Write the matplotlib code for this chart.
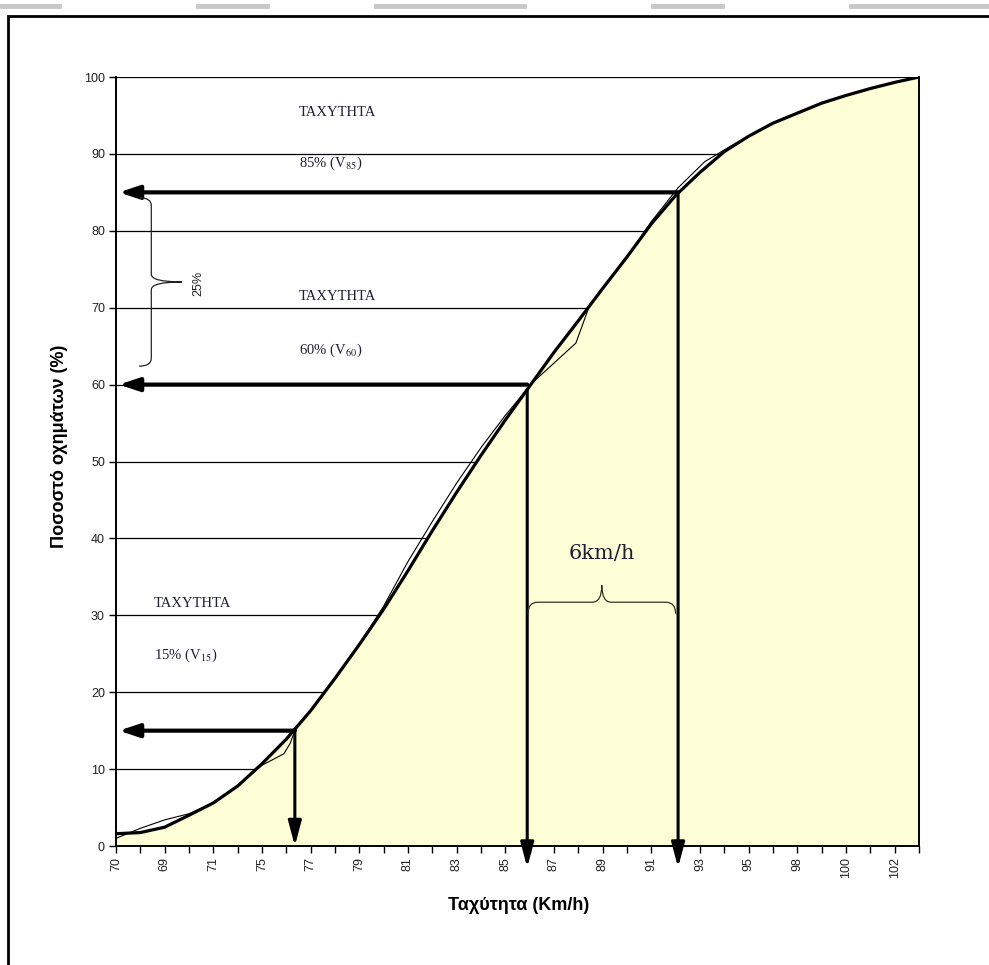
import numpy as np
import matplotlib
matplotlib.use('Agg')
import matplotlib.pyplot as plt
from matplotlib.path import Path
from matplotlib.patches import PathPatch, Rectangle
from matplotlib.lines import Line2D

plt.rcParams['font.family'] = ['Liberation Sans', 'DejaVu Sans']
plt.rcParams['mathtext.fontset'] = 'stix'

### Data ###

# speed categories on the x axis (only every other one carries a label)
speed_labels = ['70', '69', '71', '75', '77', '79', '81', '83', '85', '87',
                '89', '91', '93', '95', '98', '100', '102']
n_cat = 34

# smoothed cumulative curve (%), one value per category
smooth_pct = [1.6, 1.75, 2.45, 4.0, 5.6, 7.8, 10.7, 13.9, 17.6, 21.8,
              26.2, 30.8, 35.8, 41.0, 46.0, 50.8, 55.4, 59.8, 64.2, 68.3,
              72.5, 76.6, 80.9, 84.6, 87.6, 90.3, 92.3, 94.0, 95.3, 96.6,
              97.6, 98.5, 99.3, 100.0]

# measured cumulative distribution (thin line)
meas_x = [0, 1, 2, 3, 4, 5, 6, 6.9, 7.15, 7.4, 8, 9, 10, 11, 12, 13, 14,
          15, 16, 17.1, 18.9, 19.44, 20, 21, 22, 23.1, 24.2, 25.2, 26, 27,
          28, 29, 30, 31, 32, 33]
meas_pct = [1.0, 2.3, 3.4, 4.2, 5.6, 7.8, 10.5, 12.0, 13.3, 15.4, 17.6,
            21.8, 26.2, 31.2, 37.0, 42.2, 47.2, 51.8, 56.0, 60.2, 65.4,
            70.1, 72.5, 76.6, 81.2, 85.6, 89.0, 90.9, 92.3, 94.0, 95.3,
            96.6, 97.6, 98.5, 99.3, 100.0]

# percentile speeds: level (%) and position on the category axis
pct_levels = [15, 60, 85]
pct_pos = [7.35, 16.9, 23.1]
pct_names = ['15', '60', '85']


def brace(ax, a0, a1, b_end, b_spine, b_tip, r, vertical=True, **kw):
    '''Curly brace spanning a0..a1 along one axis; ends at b_end,
    spine at b_spine, tip at b_tip on the other axis.'''
    m = (a0 + a1) / 2.0
    pts = [(b_end, a1), (b_spine, a1), (b_spine, a1 - r),
           (b_spine, m + r), (b_spine, m), (b_tip, m),
           (b_spine, m), (b_spine, m - r),
           (b_spine, a0 + r), (b_spine, a0), (b_end, a0)]
    if not vertical:
        pts = [(p[1], p[0]) for p in pts]
    codes = [Path.MOVETO, Path.CURVE3, Path.CURVE3, Path.LINETO,
             Path.CURVE3, Path.CURVE3, Path.CURVE3, Path.CURVE3,
             Path.LINETO, Path.CURVE3, Path.CURVE3]
    ax.add_patch(PathPatch(Path(pts, codes), fill=False, **kw))


fig = plt.figure(figsize=(9.89, 9.65), dpi=100)
ax = fig.add_axes([0.1173, 0.1233, 0.8119, 0.7969])

x = np.arange(n_cat)

# grid lines sit behind the yellow area
for g in range(10, 101, 10):
    ax.axhline(g, color='black', lw=0.9, zorder=0.5)

ax.fill_between(x, 0, smooth_pct, color='#fdfdd6', lw=0, zorder=1)
ax.plot(meas_x, meas_pct, color='black', lw=0.8, zorder=2)
ax.plot(x, smooth_pct, color='black', lw=2.3, zorder=3,
        solid_joinstyle='round')

# percentile arrows
for lvl, pos in zip(pct_levels, pct_pos):
    ycurve = np.interp(pos, x, smooth_pct)
    ax.annotate('', xy=(0.12, lvl), xytext=(pos, lvl),
                arrowprops=dict(arrowstyle='-|>,head_length=1.2,head_width=0.4',
                                lw=3, color='black', shrinkA=0, shrinkB=0),
                zorder=5)
    ybot = 0 if lvl == 15 else -2.8
    ax.annotate('', xy=(pos, ybot), xytext=(pos, ycurve),
                arrowprops=dict(arrowstyle='-|>,head_length=1.5,head_width=0.4',
                                lw=2.2, color='black', shrinkA=0, shrinkB=0,
                                clip_on=False),
                annotation_clip=False, zorder=5)

# text blocks
txt_kw = dict(family=['Liberation Serif', 'DejaVu Serif'], fontsize=10.5,
              color='#1e1e35', va='center', ha='left', zorder=6)
txt_pos = {'85': (7.52, 95.4, 88.8), '60': (7.52, 71.5, 64.5),
           '15': (1.56, 31.6, 24.8)}
for name in pct_names:
    tx, y1, y2 = txt_pos[name]
    ax.text(tx, y1, 'ΤΑΧΥΤΗΤΑ', **txt_kw)
    ax.text(tx, y2, name + '% (V$_{' + name + '}$)', **txt_kw)

# braces
brace(ax, 62.4, 84.3, 0.95, 1.45, 2.7, 1.0, vertical=True,
      color='#222222', lw=0.9, zorder=6)
ax.text(3.4, 73.2, '25%', rotation=90, fontsize=9, ha='center',
        va='center', color='#222222', zorder=6)

brace(ax, 16.93, 23.0, 30.2, 31.7, 33.9, 0.4, vertical=False,
      color='#333322', lw=0.9, zorder=6)
ax.text(19.97, 38.1, '6km/h', family=['DejaVu Serif'], fontsize=15,
        ha='center', va='center', color='#1e1e35', zorder=6)

# axes
ax.set_xlim(0, n_cat - 1)
ax.set_ylim(0, 100)
ax.set_xticks(x)
tick_lbls = []
for i in range(n_cat):
    if i % 2 == 0 and i // 2 < len(speed_labels):
        tick_lbls.append(speed_labels[i // 2])
    else:
        tick_lbls.append('')
ax.set_xticklabels(tick_lbls, rotation=90)
ax.set_yticks(range(0, 101, 10))
ax.tick_params(axis='both', direction='out', length=5, width=1,
               labelsize=9, pad=3, labelcolor='#222222')
for s in ['left', 'bottom', 'right']:
    ax.spines[s].set_linewidth(1.4)
ax.spines['top'].set_visible(False)

ax.set_ylabel('Ποσοστό οχημάτων (%)', fontsize=13, fontweight='bold')
ax.set_xlabel('Ταχύτητα (Km/h)', fontsize=13, fontweight='bold')
ax.yaxis.set_label_coords(-0.06, 0.52)
ax.xaxis.set_label_coords(0.502, -0.066)

# page frame around the figure
fig.add_artist(Rectangle((0.0081, -0.1), 1.2, 1.0834, transform=fig.transFigure,
                         fill=False, lw=2, color='black'))
for x0, x1 in [(0.0, 0.06), (0.2, 0.27), (0.38, 0.53), (0.66, 0.73), (0.86, 1.0)]:
    fig.add_artist(Line2D([x0, x1], [0.994, 0.994], transform=fig.transFigure,
                          color='#c8c8c8', lw=3.5))

fig.savefig('out.png', dpi=100)
